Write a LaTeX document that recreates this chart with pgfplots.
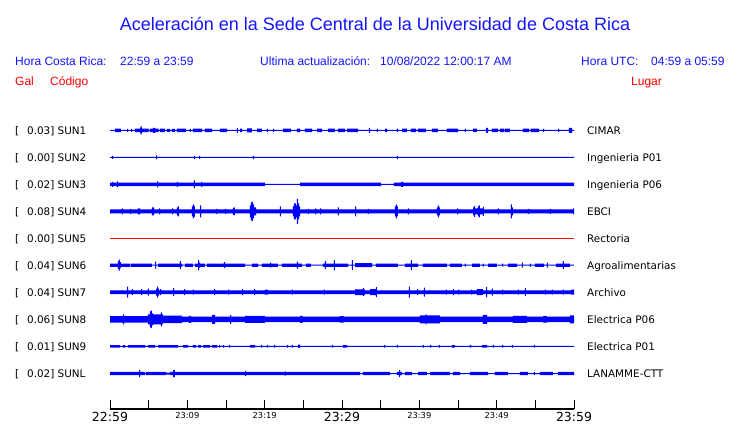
\documentclass[border=0pt]{standalone}
\usepackage{pgfplots}
\pgfplotsset{compat=1.18}
\usepackage{pgfplotstable}
\usepgfplotslibrary{fillbetween}
\usepackage{fontspec}
\setmainfont{Liberation Sans}
\newfontfamily\dv{DejaVu Sans}
\definecolor{tr}{RGB}{0,0,255}
\definecolor{ttl}{RGB}{20,20,255}

% envelopes: t = minutes after 22:59, a = half amplitude (display units)
\pgfplotstableread{
t a
0 0.5
0.65 1.7
1.42 0.5
2.20 1.5
2.33 0.5
2.72 1.5
2.85 0.5
3.23 1.7
3.88 3
4.00 4.3
4.10 2.5
4.14 1.7
5.00 0.5
5.15 1.7
5.56 2.5
5.82 1.7
6.30 0.5
6.45 1.7
7.11 0.5
7.37 1.5
7.76 0.5
8.02 1.5
8.40 0.5
8.66 1.7
9.83 0.5
10.34 1.5
10.47 0.5
10.73 1.7
11.90 0.5
12.28 1.7
13.19 0.5
14.22 1.7
15.13 0.5
16.42 2.5
16.55 0.5
16.81 1.7
17.07 0.5
17.72 2.0
18.36 0.5
19.01 1.7
19.65 0.5
20.30 1.5
20.43 0.5
21.08 1.5
21.21 0.5
22.37 1.7
23.40 0.5
24.18 1.7
24.57 0.5
25.21 1.7
26.12 0.5
26.77 1.7
27.41 0.5
28.19 1.7
29.09 0.5
29.48 1.7
30.39 0.5
30.65 1.7
32.07 0.5
33.49 2.5
33.62 0.5
34.52 1.5
34.65 0.5
35.56 1.7
35.82 0.5
37.11 1.7
37.24 0.5
37.76 1.7
38.40 0.5
38.92 1.7
39.60 0.5
39.80 1.7
40.86 0.5
41.63 1.7
42.41 0.5
43.57 1.7
45.00 0.5
45.90 1.5
46.03 0.5
46.94 1.7
47.45 0.5
48.62 2.5
48.88 0.5
49.39 1.7
50.20 0.5
50.40 1.7
51.00 0.5
51.10 1.7
51.72 0.5
53.40 1.7
54.20 0.5
54.40 1.7
55.47 0.5
55.99 1.5
56.12 0.5
57.93 1.5
58.06 0.5
59.35 2.5
59.74 0.5
60 0.5
}\sunA
\pgfplotstableread{
t a
0 0.5
0.26 1.5
0.39 0.5
5.95 2
6.08 0.5
10.86 1.5
10.99 0.5
11.51 1.5
11.64 0.5
18.49 1.5
18.62 0.5
37.11 1.5
37.24 0.5
60 0.5
}\sunB
\pgfplotstableread{
t a
0 1.7
0.26 2.5
0.39 1.7
0.91 3
1.04 1.7
6.08 3
6.21 1.7
8.66 2.5
8.79 1.7
10.86 4
10.99 1.7
11.77 2.5
11.90 1.7
20.04 0.5
24.57 1.7
35.04 0.5
36.72 1.7
37.63 2.5
37.89 1.7
60 1.7
}\sunC
\pgfplotstableread{
t a
0 2
1.55 3
1.68 2
2.59 2.5
2.72 2
3.62 3
3.88 2
5.43 4
5.69 2
6.34 3
6.47 2
8.02 3
8.15 2
8.66 4
8.79 5
8.92 2
10.60 5
10.73 7
10.86 5.5
10.99 2
11.64 6
11.77 2
13.71 2.5
13.84 2
14.87 2.5
15.00 2
15.90 3.5
16.03 4
16.16 2
18.10 6
18.23 9
18.36 9.7
18.49 7
18.62 4
18.88 2
21.98 5
22.11 2
23.66 5
23.79 8
24.05 6
24.18 12.5
24.31 8
24.44 5
24.57 2
25.60 2.5
25.73 2
26.51 3
26.64 2
27.16 3
27.29 2
29.48 4
29.61 2
31.68 5
31.81 2
33.36 2.5
33.49 2
36.85 5
36.98 7
37.11 5
37.24 2
38.53 3
38.66 2
42.28 4
42.41 6
42.54 4
42.67 2
44.87 3
45.00 2
46.94 4
47.07 5.5
47.20 3
47.58 5
47.71 6
47.84 3
48.23 4.5
48.36 2
50.17 3
50.30 2
51.85 7
51.98 4
52.11 2
54.05 2.5
54.18 2
56.89 2.5
57.02 2
59.87 3
60 2
}\sunD
\pgfplotstableread{
t a
0 1.7
1.03 4
1.16 5.5
1.29 3
1.42 1.7
2.59 0.5
2.72 1.7
5.43 0.5
5.82 3.5
5.95 0.5
6.21 1.7
9.05 4
9.18 1.7
9.31 0.5
9.70 1.7
10.73 0.5
10.99 1.7
11.38 5
11.51 2.5
11.64 1.7
12.28 0.5
12.54 1.7
14.74 3
14.87 1.7
17.46 0.5
18.36 1.7
19.14 0.5
19.65 1.7
20.69 2.5
20.82 1.7
21.72 0.5
22.24 1.7
24.18 3.5
24.31 1.7
24.83 0.5
25.34 1.7
25.99 0.5
27.54 1.7
27.80 4
27.93 1.7
28.96 5
29.09 1.7
30.78 0.5
31.29 5
31.42 0.5
31.68 2
33.88 0.5
34.39 1.7
37.24 0.5
38.14 1.7
38.92 5
39.05 1.7
39.83 0.5
40.47 1.7
43.57 0.5
43.96 1.7
45.51 0.5
45.90 1.5
46.03 0.5
46.81 1.7
47.84 0.5
48.23 1.5
48.36 0.5
48.88 1.7
50.04 0.5
50.69 1.5
50.82 0.5
51.46 1.7
52.63 0.5
53.27 2.5
53.40 0.5
54.30 1.5
54.43 0.5
54.95 1.7
56.12 0.5
56.50 2.5
56.63 0.5
57.67 1.7
58.57 4
58.70 1.7
59.48 0.5
60 0.5
}\sunF
\pgfplotstableread{
t a
0 1.8
2.20 5.5
2.33 1.8
2.84 3
2.97 1.8
4.01 3
4.14 1.8
4.91 3.5
5.04 1.8
5.95 3.5
6.08 5.5
6.21 3.5
6.34 1.8
6.47 3
6.60 1.8
8.15 4
8.28 1.8
9.57 3
9.70 1.8
10.73 2.5
10.86 1.8
13.45 3
13.58 1.8
15.26 2.5
15.39 1.8
17.07 3
17.20 1.8
18.62 3
18.75 1.8
20.04 2.5
20.43 1.8
23.53 2.5
23.66 1.8
27.67 2.5
27.80 1.8
31.68 2.8
32.71 4
32.84 2.8
32.97 1.8
33.62 3
34.39 5
34.52 1.8
38.66 5.5
38.79 1.8
39.70 3
39.83 1.8
40.60 4.5
40.73 1.8
43.44 2.5
43.57 1.8
44.35 3
44.48 1.8
45.00 2.5
45.13 1.8
46.68 2.5
46.81 1.8
47.45 3
48.23 1.8
48.62 5
48.75 1.8
49.39 3.5
49.52 1.8
50.69 2.5
50.82 1.8
52.75 2.5
52.88 1.8
53.66 4
53.79 1.8
56.25 2.5
56.38 1.8
57.15 2.5
57.28 1.8
58.57 2.5
58.70 1.8
59.60 2.5
60 1.8
}\sunG
\pgfplotstableread{
t a
0 3.2
1.68 5
1.81 3.2
4.91 5
5.17 8
5.30 8.7
5.43 6
5.56 5
5.82 5
6.59 7
6.72 5
6.85 3.8
9.31 2.8
10.20 3.5
10.50 2.8
13.19 4.5
13.58 2.8
15.52 4.5
15.65 2.8
17.46 3.5
20.04 2.8
24.60 3.5
24.90 2.8
29.70 3.2
30.20 2.8
40.08 4
40.80 5
40.93 4
42.67 2.8
48.23 4.5
48.75 2.8
52.11 3.5
53.92 2.8
56.00 3.2
56.50 2.8
59.48 4
60 4
}\sunH
\pgfplotstableread{
t a
0 1.3
1.29 0.5
1.68 1.3
1.94 0.5
2.33 1.3
4.53 0.5
4.91 1.3
5.82 0.5
6.21 1.3
8.79 0.5
9.44 1.3
10.09 0.5
10.73 1.3
11.12 0.5
11.38 1.3
11.77 0.5
12.03 1.3
12.93 0.5
13.19 1.3
13.84 0.5
14.10 1.3
14.22 0.5
14.61 1.3
14.74 0.5
15.39 1.3
15.52 0.5
18.10 1.3
18.75 0.5
19.53 1.3
19.66 0.5
20.30 1.3
20.43 0.5
21.21 1.3
21.34 0.5
22.89 1.3
23.02 0.5
23.53 1.3
23.66 0.5
24.31 1.6
24.57 0.5
28.71 1.3
28.84 0.5
30.13 1.3
30.65 0.5
35.43 1.3
35.56 0.5
37.11 1.3
37.24 0.5
40.47 1.3
40.60 0.5
41.38 1.3
41.51 0.5
42.54 1.3
42.67 0.5
44.22 1.3
44.61 0.5
46.55 1.3
46.68 0.5
48.10 1.3
48.75 0.5
49.52 1.3
49.65 0.5
50.69 1.3
50.82 0.5
51.98 1.3
52.11 0.5
54.82 1.3
54.95 0.5
60 0.5
}\sunI
\pgfplotstableread{
t a
0 1.7
3.75 3.5
3.88 1.7
4.53 0.5
4.66 1.7
7.24 1.0
7.76 1.7
8.15 3.5
8.40 1.7
17.46 2.5
17.59 1.7
22.60 2.2
22.73 1.7
32.33 0.5
32.71 1.7
36.21 0.5
37.11 1.7
37.37 3.5
37.50 1.7
37.76 0.5
38.14 1.7
39.05 0.5
39.83 1.7
40.99 0.5
41.38 1.7
43.96 0.5
44.35 1.7
45.26 0.5
46.55 1.7
48.88 0.5
49.78 1.7
51.46 0.5
53.01 1.7
54.05 0.5
54.82 1.3
54.95 0.5
55.60 1.7
57.28 0.5
57.93 1.7
60 1.7
}\sunL

\newcommand{\trace}[3]{%
  \addplot[name path=U#3, const plot, draw=none, forget plot] table[x=t, y expr={#2+\thisrow{a}}] {#1};
  \addplot[name path=L#3, const plot, draw=none, forget plot] table[x=t, y expr={#2-\thisrow{a}}] {#1};
  \addplot[fill=tr, draw=none, forget plot] fill between[of=U#3 and L#3];
}
\newcommand{\BL}[1]{{\fontsize{12.5bp}{14bp}\dv #1}}
\newcommand{\SL}[1]{{\fontsize{8.3bp}{10bp}\dv #1}}

\begin{document}
\begin{tikzpicture}
\begin{axis}[
  scale only axis, width=464bp, height=409bp,
  at={(110bp,14bp)}, anchor=south west,
  xmin=0, xmax=60, ymin=-409, ymax=0,
  axis x line=bottom, axis y line=none,
  axis line style={-, line width=1.2bp, black},
  xtick={0,5,...,60},
  xticklabels={\BL{22:59},,\SL{23:09},,\SL{23:19},,\BL{23:29},,\SL{23:39},,\SL{23:49},,\BL{23:59}},
  xtick align=inside, major tick length=9bp,
  tick style={line width=0.9bp, black},
  xticklabel style={anchor=north, inner sep=0pt, yshift=-3bp},
  clip=false,
]
\trace{\sunA}{-130.3}{1}
\trace{\sunB}{-157.3}{2}
\trace{\sunC}{-184.3}{3}
\trace{\sunD}{-211.3}{4}
\addplot[red, line width=1.1bp, forget plot] coordinates {(0,-238.2) (60,-238.2)};
\trace{\sunF}{-265.2}{6}
\trace{\sunG}{-292.2}{7}
\trace{\sunH}{-319.3}{8}
\trace{\sunI}{-346.3}{9}
\trace{\sunL}{-373.5}{10}
\end{axis}
\begin{scope}[x=1bp, y=-1bp, shift={(0,423bp)}]
\path[use as bounding box] (0,0) rectangle (740,423);
\node[anchor=base, text=ttl, inner sep=0pt, font=\fontsize{18bp}{20bp}\selectfont] at (375,30) {Aceleración en la Sede Central de la Universidad de Costa Rica};
\begin{scope}[every node/.style={anchor=base west, inner sep=0pt, text=ttl, font=\fontsize{12bp}{14bp}\selectfont}]
\node at (15,65) {Hora Costa Rica:};
\node at (120,65) {22:59 a 23:59};
\node at (260,65) {Ultima actualización:};
\node at (380,65) {10/08/2022 12:00:17 AM};
\node at (581,65) {Hora UTC:};
\node at (651,65) {04:59 a 05:59};
\node[text=red] at (15,85) {Gal};
\node[text=red] at (50,85) {Código};
\node[text=red] at (631,85) {Lugar};
\end{scope}
\begin{scope}[every node/.style={anchor=base west, inner sep=0pt, text=black, font=\fontsize{10.4bp}{12bp}\dv}]
\foreach \c/\v/\s/\l in {130.3/0.03/SUN1/CIMAR, 157.3/0.00/SUN2/Ingenieria P01, 184.3/0.02/SUN3/Ingenieria P06, 211.3/0.08/SUN4/EBCI, 238.2/0.00/SUN5/Rectoria, 265.2/0.04/SUN6/Agroalimentarias, 292.2/0.04/SUN7/Archivo, 319.3/0.06/SUN8/Electrica P06, 346.3/0.01/SUN9/Electrica P01, 373.5/0.02/SUNL/LANAMME-CTT}{
  \node at (15,{\c+4}) {[};
  \node at (27,{\c+4}) {\v] \s};
  \node at (587,{\c+4}) {\l};
}
\end{scope}
\end{scope}
\end{tikzpicture}
\end{document}
